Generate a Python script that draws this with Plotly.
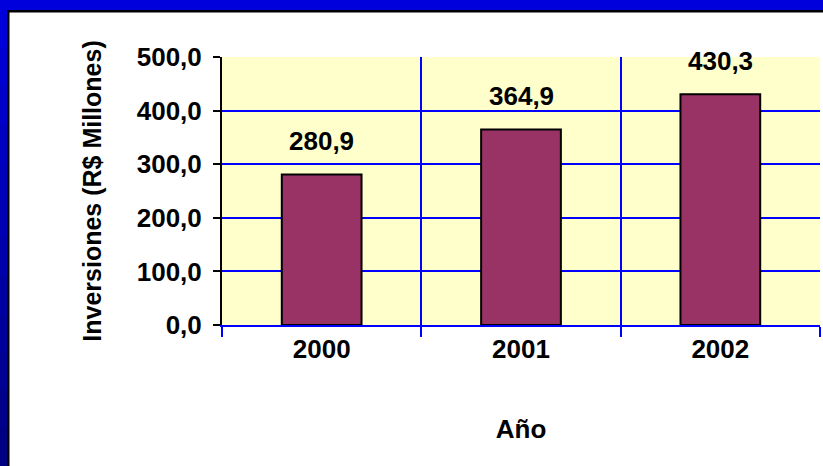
import plotly.graph_objects as go

# datos
anios = ["2000", "2001", "2002"]
inversiones = [280.9, 364.9, 430.3]
ticks_y = [0, 100, 200, 300, 400, 500]

W, H = 823, 466
L, R, T, B = 222, 3, 57, 141
pw, ph = W - L - R, H - T - B


def px_x(x):
    return (x - L) / pw


def px_y(y):
    return 1 - (y - T) / ph


fnt = dict(family="Arial, Liberation Sans, sans-serif", size=26, color="black", weight="bold")
fnt_v = dict(fnt, size=25)

fig = go.Figure(go.Bar(
    x=anios,
    y=inversiones,
    width=0.4,
    marker=dict(color="#993366", line=dict(color="black", width=2)),
))

# etiquetas de valores
for i, v in enumerate(inversiones):
    fig.add_annotation(x=i, y=v, text=f"{v:.1f}".replace(".", ","), showarrow=False,
                       yanchor="bottom", yshift=16, font=fnt)

# marco azul
shapes = []
n = 12
for i in range(n):
    y0 = 10 + (H - 10) * i / n
    y1 = 10 + (H - 10) * (i + 1) / n
    b = int(0xDD - (0xDD - 0x80) * (i + 0.5) / n)
    shapes.append(dict(type="rect", xref="paper", yref="paper", x0=px_x(0), x1=px_x(7),
                       y0=px_y(y0), y1=px_y(y1), fillcolor=f"rgb(0,0,{b})", line_width=0, layer="above"))
shapes += [
    dict(type="rect", xref="paper", yref="paper", x0=px_x(0), x1=px_x(W), y0=px_y(0), y1=px_y(10),
         fillcolor="#0000DD", line_width=0, layer="above"),
    dict(type="rect", xref="paper", yref="paper", x0=px_x(7), x1=px_x(W), y0=px_y(10), y1=px_y(12.5),
         fillcolor="black", line_width=0, layer="above"),
    dict(type="rect", xref="paper", yref="paper", x0=px_x(7), x1=px_x(9.5), y0=px_y(10), y1=px_y(H),
         fillcolor="black", line_width=0, layer="above"),
]

fig.update_layout(
    width=W, height=H,
    margin=dict(l=L, r=R, t=T, b=B),
    paper_bgcolor="white",
    plot_bgcolor="#FFFFCC",
    separators=",.",
    showlegend=False,
    font=fnt,
    shapes=shapes,
    xaxis=dict(
        type="category",
        range=[-0.5, 2.5],
        tickson="boundaries",
        tickangle=0,
        showgrid=True, gridcolor="#0000FF", gridwidth=2,
        showline=True, linecolor="#0000FF", linewidth=2,
        ticks="outside", ticklen=10, tickcolor="#0000FF", tickwidth=2,
        tickfont=fnt,
        title=dict(text="Año", font=fnt, standoff=57),
    ),
    yaxis=dict(
        range=[0, 500],
        tickvals=ticks_y,
        tickformat=".1f",
        showgrid=True, gridcolor="#0000FF", gridwidth=2,
        zeroline=False,
        showline=True, linecolor="black", linewidth=2,
        ticks="outside", ticklen=7, tickcolor="black", tickwidth=2,
        ticklabelstandoff=6,
        tickfont=fnt,
        title=dict(text="Inversiones (R$ Millones)", font=fnt_v, standoff=28),
    ),
)

fig.write_html("out.html", config={"displayModeBar": False},
               post_script="document.body.style.margin='0';")
